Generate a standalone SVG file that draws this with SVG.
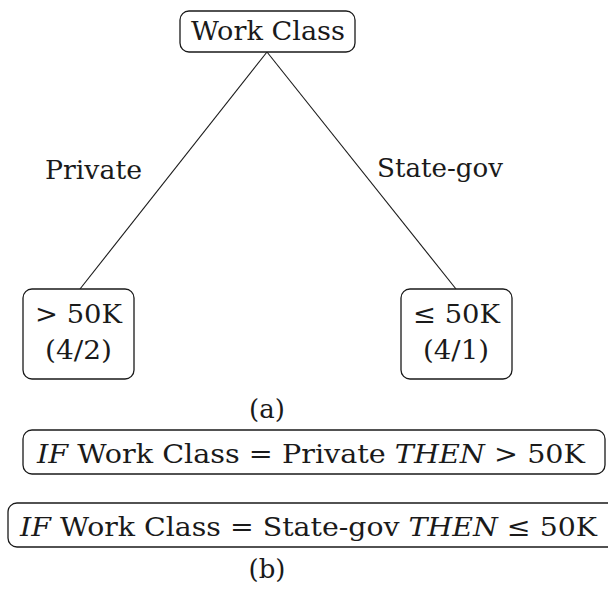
<svg xmlns="http://www.w3.org/2000/svg" width="608" height="596" viewBox="0 0 608 596">
  <style>
    .box { fill: #ffffff; stroke: #1a1a1a; stroke-width: 1.3; }
    .edge { stroke: #1a1a1a; stroke-width: 1.1; fill: none; }
    text { font-family: 'DejaVu Serif', 'Liberation Serif', serif; font-size: 26px; fill: #1a1a1a; }
    .mid { text-anchor: middle; }
    .it { font-style: italic; }
  </style>

  <!-- tree edges -->
  <g id="connectors">
    <line class="edge" x1="267" y1="52" x2="80" y2="289"/>
    <line class="edge" x1="267" y1="52" x2="456" y2="289"/>
  </g>

  <!-- edge labels -->
  <g id="edge-labels">
    <text x="45" y="179" textLength="97" lengthAdjust="spacingAndGlyphs">Private</text>
    <text x="377" y="177" textLength="126" lengthAdjust="spacingAndGlyphs">State-gov</text>
  </g>

  <!-- root -->
  <g id="node-root">
    <rect class="box" x="180" y="11" width="175" height="41" rx="9"/>
    <text x="191" y="40" textLength="154" lengthAdjust="spacingAndGlyphs">Work Class</text>
  </g>

  <!-- leaves -->
  <g id="node-leaf-high">
    <rect class="box" x="23" y="289" width="111" height="90" rx="9"/>
    <text x="35" y="323" textLength="87" lengthAdjust="spacingAndGlyphs">&gt; 50K</text>
    <text x="45" y="359" textLength="67" lengthAdjust="spacingAndGlyphs">(4/2)</text>
  </g>
  <g id="node-leaf-low">
    <rect class="box" x="401" y="289" width="111" height="90" rx="9"/>
    <text x="413" y="323" textLength="87" lengthAdjust="spacingAndGlyphs">≤ 50K</text>
    <text x="423" y="359" textLength="66" lengthAdjust="spacingAndGlyphs">(4/1)</text>
  </g>

  <!-- caption (a) -->
  <text class="mid" x="267" y="418" font-size="23">(a)</text>

  <!-- extracted rules -->
  <g id="rule-1">
    <rect class="box" x="23" y="430" width="582" height="44" rx="9"/>
    <text x="37" y="463" textLength="548" lengthAdjust="spacingAndGlyphs"><tspan class="it">IF</tspan> Work Class = Private <tspan class="it">THEN</tspan> &gt; 50K</text>
  </g>
  <g id="rule-2">
    <rect class="box" x="8" y="503" width="620" height="44" rx="9"/>
    <text x="20" y="536" textLength="577" lengthAdjust="spacingAndGlyphs"><tspan class="it">IF</tspan> Work Class = State-gov <tspan class="it">THEN</tspan> ≤ 50K</text>
  </g>

  <!-- caption (b) -->
  <text class="mid" x="267" y="578" font-size="23">(b)</text>
</svg>
